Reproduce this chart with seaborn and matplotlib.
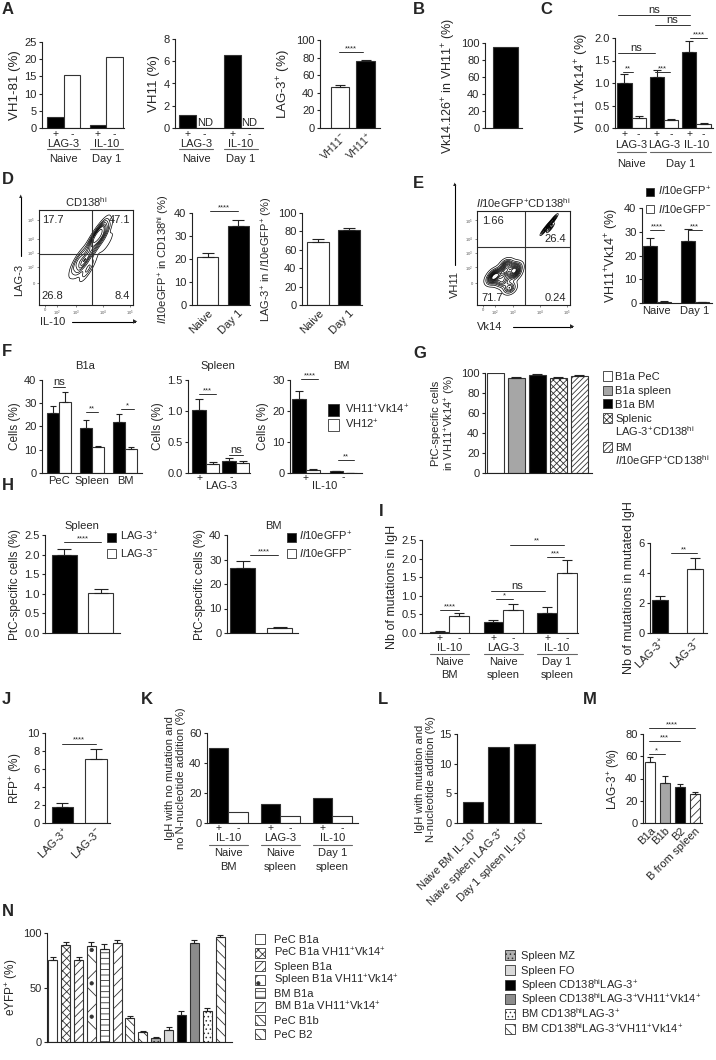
import numpy as np
import pandas as pd
import matplotlib.pyplot as plt
from matplotlib.patches import Rectangle
from matplotlib.ticker import FormatStrFormatter
import seaborn as sns

sns.set_style('ticks')
plt.rcParams['font.family'] = ['Liberation Sans', 'DejaVu Sans']
plt.rcParams.update({
    'mathtext.fontset': 'custom',
    'mathtext.rm': 'Liberation Sans',
    'mathtext.it': 'Liberation Sans:italic',
    'mathtext.bf': 'Liberation Sans:bold',
    'font.size': 8,
    'axes.linewidth': 0.8,
    'axes.edgecolor': '#222222',
    'axes.facecolor': 'none',
    'xtick.labelsize': 8,
    'ytick.labelsize': 8,
    'axes.labelsize': 8.5,
    'hatch.linewidth': 0.6,
})

# ---------------- data ----------------
pm_sign = ['+', '-', '+', '-']
a_genes = ['LAG-3', 'LAG-3', 'IL-10', 'IL-10']
a1_vals = [3.1, 15.3, 1.0, 20.6]
a2_vals = [1.15, 0, 6.6, 0]          # ND for the negative fractions
a3_cats = ['VH11$^{-}$', 'VH11$^{+}$']
a3_vals = [47, 76]
a3_err = [1.5, 1.5]
b_vals = [95]

c_groups = ['Naive LAG-3', 'Naive LAG-3', 'Day1 LAG-3', 'Day1 LAG-3', 'Day1 IL-10', 'Day1 IL-10']
c_sign = ['+', '-', '+', '-', '+', '-']
c_vals = [1.0, 0.22, 1.14, 0.17, 1.7, 0.09]
c_err = [0.2, 0.05, 0.15, 0.04, 0.24, 0.02]

d_cats = ['Naive', 'Day 1']
d2_vals = [21, 34.5]
d2_err = [1.5, 2.5]
d3_vals = [69, 82]
d3_err = [3, 2]
d_quads = ['17.7', '47.1', '26.8', '8.4']
d_pop_x = [0.62, 0.68, 0.58, 0.66, 0.47, 0.52, 0.42, 0.55, 0.60, 0.72, 0.40, 0.50]
d_pop_y = [0.72, 0.74, 0.70, 0.80, 0.44, 0.38, 0.48, 0.55, 0.60, 0.66, 0.40, 0.52]
d_pop_w = [4, 3, 2, 2, 3, 2, 2, 1, 1, 1, 1, 1]

e_quads = ['1.66', '26.4', '71.7', '0.24']
e_hi_x = [0.76, 0.80, 0.72, 0.79, 0.83]
e_hi_y = [0.84, 0.88, 0.79, 0.82, 0.92]
e_lo_x = [0.30, 0.20, 0.40, 0.27, 0.32, 0.42, 0.16, 0.35]
e_lo_y = [0.35, 0.33, 0.33, 0.25, 0.43, 0.40, 0.27, 0.18]
e_groups = ['Naive', 'Naive', 'Day 1', 'Day 1']
e_sub = ['pos', 'neg', 'pos', 'neg']
e_vals = [24, 0.5, 26.3, 0.4]
e_err = [3.5, 0.2, 5, 0.2]

f_groups = ['PeC', 'PeC', 'Spleen', 'Spleen', 'BM', 'BM']
f_sub = ['VH11', 'VH12'] * 3
f1_vals = [26, 30.5, 19.5, 11, 22, 10.5]
f1_err = [3, 4.5, 3.5, 0.6, 3.5, 0.8]
f2_vals = [1.02, 0.14, 0.2, 0.16]
f2_err = [0.17, 0.03, 0.04, 0.03]
f3_vals = [24, 1.0, 0.5, 0.1]
f3_err = [2.5, 0.2, 0.15, 0.05]

g_labels = ['B1a PeC', 'B1a spleen', 'B1a BM', 'Splenic\nLAG-3$^{+}$CD138$^{\\mathrm{hi}}$',
            'BM\n$\\it{Il10}$eGFP$^{+}$CD138$^{\\mathrm{hi}}$']
g_vals = [100, 95, 98.5, 95, 97.5]
g_err = [0, 1.2, 0.8, 0.6, 0.6]

h1_vals = [2.0, 1.03]
h1_err = [0.15, 0.1]
h2_vals = [26.5, 2.0]
h2_err = [2.7, 0.3]

i_groups = ['BM', 'BM', 'SpN', 'SpN', 'SpD', 'SpD']
i1_vals = [0.04, 0.45, 0.3, 0.62, 0.55, 1.62]
i1_err = [0.02, 0.1, 0.06, 0.17, 0.15, 0.33]
i2_cats = ['LAG-3$^{+}$', 'LAG-3$^{-}$']
i2_vals = [2.2, 4.25]
i2_err = [0.3, 0.75]

j_vals = [1.8, 7.1]
j_err = [0.4, 1.1]
k_vals = [50, 7.5, 12.5, 4.5, 16.5, 4.5]
l_cats = ['Naive BM IL-10$^{+}$', 'Naive spleen LAG-3$^{+}$', 'Day 1 spleen IL-10$^{+}$']
l_vals = [3.6, 12.8, 13.3]
m_cats = ['B1a', 'B1b', 'B2', 'B from spleen']
m_vals = [55, 36, 32, 26]
m_err = [4, 6, 3.5, 2]

n_labels_left = ['PeC B1a', 'PeC B1a VH11$^{+}$Vk14$^{+}$', 'Spleen B1a',
                 'Spleen B1a VH11$^{+}$Vk14$^{+}$', 'BM B1a', 'BM B1a VH11$^{+}$Vk14$^{+}$',
                 'PeC B1b', 'PeC B2']
n_labels_right = ['Spleen MZ', 'Spleen FO', 'Spleen CD138$^{\\mathrm{hi}}$LAG-3$^{+}$',
                  'Spleen CD138$^{\\mathrm{hi}}$LAG-3$^{+}$VH11$^{+}$Vk14$^{+}$',
                  'BM CD138$^{\\mathrm{hi}}$LAG-3$^{+}$',
                  'BM CD138$^{\\mathrm{hi}}$LAG-3$^{+}$VH11$^{+}$Vk14$^{+}$']
n_vals = [75, 89, 75, 88, 85, 91, 22, 9, 4, 11, 25, 91, 28, 96]
n_err = [3, 3, 3, 4, 5, 3, 2, 1, 1, 3, 3, 3, 3, 2]
n_fills = ['white'] * 8 + ['#b0b0b0', '#d9d9d9', 'black', '#8c8c8c', 'white', 'white']
n_hatch = [None, 'xxxx', '////', 'x.', '---', '///', '\\\\\\\\', '\\\\\\', '....', None, None, None,
           '....', '\\\\\\']

# ---------------- helpers ----------------
W, H = 716, 1060
fig = plt.figure(figsize=(W / 100, H / 100), dpi=100)


def axes_px(l, t, r, b):
    ax = fig.add_axes([l / W, 1 - b / H, (r - l) / W, (b - t) / H])
    ax.hpx = b - t
    ax.wpx = r - l
    return ax


def bars(ax, xlim, groups, subs, vals, fills, hatches=None, errs=None, width=0.8, gap=0.0):
    n = len(vals)
    hatches = hatches or [None] * n
    errs = errs or [0] * n
    df = pd.DataFrame({'grp': groups, 'sub': subs, 'val': vals})
    horder = list(dict.fromkeys(subs))
    sns.barplot(data=df, x='grp', y='val', hue='sub', order=list(dict.fromkeys(groups)),
                hue_order=horder, palette=['white'] * len(horder), width=width, gap=gap,
                errorbar=None, legend=False, ax=ax, linewidth=0.8, edgecolor='#333333')
    ax.set_xlim(*xlim)
    ppu = ax.wpx / (xlim[1] - xlim[0])
    ps = sorted(ax.patches, key=lambda p: p.get_x())
    cx = []
    for p, f, h, e in zip(ps, fills, hatches, errs):
        p.set_facecolor(f)
        if h:
            p.set_hatch(h)
        x = p.get_x() + p.get_width() / 2
        cx.append(x)
        if e:
            ax.errorbar(x, p.get_height(), yerr=[[0], [e]], fmt='none', ecolor='#222222',
                        elinewidth=0.8, capthick=0.8, capsize=p.get_width() * ppu * 0.28 * 0.72)
    ax.set_xlabel('')
    ax.set_ylabel('')
    return cx, ps


def style(ax, ylim, yticks, ylabel, fmt=None, pad=2, lfs=8.5):
    ax.set_ylim(*ylim)
    ax.set_yticks(yticks)
    if fmt:
        ax.yaxis.set_major_formatter(FormatStrFormatter(fmt))
    ax.set_ylabel(ylabel, labelpad=pad, fontsize=lfs)
    sns.despine(ax=ax)
    ax.tick_params(axis='x', length=0, pad=2)
    ax.tick_params(axis='y', length=2.5, width=0.8, pad=1.5)


def below(ax, x, dpx, s, fs=8, **kw):
    ax.text(x, -dpx / ax.hpx, s, transform=ax.get_xaxis_transform(), ha='center', va='center',
            fontsize=fs, **kw)


def bline(ax, x1, x2, dpx, c='#666666'):
    ax.plot([x1, x2], [-dpx / ax.hpx] * 2, transform=ax.get_xaxis_transform(), clip_on=False,
            color=c, lw=0.8)


def sig(ax, x1, x2, y, s, fs=5.5):
    ax.plot([x1, x2], [y, y], color='#333333', lw=0.7, clip_on=False)
    ax.text((x1 + x2) / 2, y, s, ha='center', va='bottom', fontsize=fs if s != 'ns' else 8,
            clip_on=False)


def mleg(labels, fills, hatches, xbox, rows, size=9, xtext=None, fs=8):
    # legend drawn row by row; multi-line labels continue on the next row without a box
    xtext = xtext or xbox + size + 4
    k = 0
    for lab, f, h in zip(labels, fills, hatches):
        for j, line in enumerate(lab.split('\n')):
            y = rows[k]
            k += 1
            if j == 0:
                fig.add_artist(Rectangle((xbox / W, 1 - (y + size / 2) / H), size / W, size / H,
                                         transform=fig.transFigure, facecolor=f,
                                         edgecolor='#333333', hatch=h, lw=0.6))
            fig.text(xtext / W, 1 - (y + 0.36 * fs * 1.39) / H, line, ha='left', va='baseline',
                     fontsize=fs)


def letter(x, y, s):
    fig.text(x / W, 1 - y / H, s, fontsize=12, fontweight='bold', ha='left', va='center')


def pm_labels(ax, cx, signs, dpx=6):
    ax.set_xticks([])
    for x, s in zip(cx, signs):
        below(ax, x, dpx, s, fs=7.5)


def flow(ax, title):
    ax.set_xlim(0, 1)
    ax.set_ylim(0, 1)
    for s in ax.spines.values():
        s.set_linewidth(0.8)
    ax.set_title(title, fontsize=8, pad=2)
    ax.set_xticks([0.065, 0.19, 0.39, 0.68, 0.97], ['0', '10$^2$', '10$^3$', '10$^4$', '10$^5$'])
    ax.set_yticks([0.23, 0.40, 0.55, 0.70, 0.90], ['0', '10$^2$', '10$^3$', '10$^4$', '10$^5$'])
    ax.tick_params(labelsize=3, length=1.5, width=0.5, pad=1, colors='#555555')


def arrows(tx, ty, text, x0, y0, x1, y1, rot=0):
    fig.text(tx / W, 1 - ty / H, text, rotation=rot, ha='center', va='center', fontsize=8)
    fig.add_artist(plt.Line2D([x0 / W, x1 / W], [1 - y0 / H, 1 - y1 / H], color='k', lw=0.8))
    fig.text(x1 / W, 1 - y1 / H, '\u25b2' if rot else '\u25b6', ha='center', va='center',
             fontsize=4)


# ---------------- A ----------------
letter(2, 10, 'A')
ax = axes_px(42, 42, 124, 128)
cx, ps = bars(ax, (-0.51, 1.42), a_genes, pm_sign, a1_vals, ['black', 'white'] * 2, width=0.78)
style(ax, (0, 25), range(0, 26, 5), 'VH1-81 (%)', lfs=9.5)
pm_labels(ax, cx, pm_sign)
for i, (gene, cond) in enumerate([('LAG-3', 'Naive'), ('IL-10', 'Day 1')]):
    below(ax, (cx[2 * i] + cx[2 * i + 1]) / 2, 16, gene)
    bline(ax, ps[2 * i].get_x(), ps[2 * i + 1].get_x() + ps[2 * i + 1].get_width(), 21)
    below(ax, (cx[2 * i] + cx[2 * i + 1]) / 2, 31, cond)

ax = axes_px(175, 39, 263, 128)
cx, ps = bars(ax, (-0.47, 1.49), a_genes, pm_sign, a2_vals, ['black', 'white'] * 2, width=0.76)
style(ax, (0, 8), range(0, 9, 2), 'VH11 (%)', lfs=9.5)
pm_labels(ax, cx, pm_sign)
for i in (1, 3):
    ax.text(cx[i], 0, 'ND', ha='center', va='bottom', fontsize=8)
for i, (gene, cond) in enumerate([('LAG-3', 'Naive'), ('IL-10', 'Day 1')]):
    below(ax, (cx[2 * i] + cx[2 * i + 1]) / 2, 16, gene)
    bline(ax, ps[2 * i].get_x(), ps[2 * i + 1].get_x() + ps[2 * i + 1].get_width(), 21)
    below(ax, (cx[2 * i] + cx[2 * i + 1]) / 2, 31, cond)

ax = axes_px(320, 40, 380, 128)
cx, ps = bars(ax, (-0.77, 1.54), a3_cats, a3_cats, a3_vals, ['white', 'black'], errs=a3_err,
              width=0.73)
style(ax, (0, 100), range(0, 101, 20), 'LAG-3$^{+}$ (%)', lfs=9.5)
ax.set_xticks(cx, a3_cats, rotation=45, ha='right', rotation_mode='anchor', fontsize=7.5)
sig(ax, cx[0] - 0.05, cx[1] - 0.1, 86, '****')

# ---------------- B ----------------
letter(413, 10, 'B')
ax = axes_px(485, 43, 522, 128)
cx, ps = bars(ax, (-0.66, 0.53), ['VH11'], ['VH11'], b_vals, ['black'])
style(ax, (0, 100), range(0, 101, 20), 'Vk14.126$^{+}$ in VH11$^{+}$ (%)', lfs=9)
ax.set_xticks([])

# ---------------- C ----------------
letter(540, 10, 'C')
ax = axes_px(615, 38, 713, 128)
cx, ps = bars(ax, (-0.51, 2.51), c_groups, c_sign, c_vals, ['black', 'white'] * 3, errs=c_err,
              width=0.88)
style(ax, (0, 2.0), [0, 0.5, 1.0, 1.5, 2.0], 'VH11$^{+}$Vk14$^{+}$ (%)', fmt='%.1f', lfs=9.5)
pm_labels(ax, cx, c_sign)
for i, gene in enumerate(['LAG-3', 'LAG-3', 'IL-10']):
    below(ax, (cx[2 * i] + cx[2 * i + 1]) / 2, 17, gene)
bline(ax, ps[0].get_x(), ps[1].get_x() + ps[1].get_width(), 24)
bline(ax, ps[2].get_x(), ps[5].get_x() + ps[5].get_width(), 24)
below(ax, (cx[0] + cx[1]) / 2, 36, 'Naive')
below(ax, (cx[2] + cx[5]) / 2, 36, 'Day 1')
sig(ax, -0.42, 1.8, 2.51, 'ns')
sig(ax, 0.72, 1.8, 2.29, 'ns')
sig(ax, 1.8, 2.32, 2.0, '****')
sig(ax, -0.42, 0.72, 1.67, 'ns')
sig(ax, -0.26, 0.05, 1.24, '**')
sig(ax, 0.72, 1.18, 1.24, '***')

# ---------------- D ----------------
letter(2, 180, 'D')
ax = axes_px(39, 210, 133, 305)
flow(ax, 'CD138$^{\\mathrm{hi}}$')
sns.kdeplot(x=d_pop_x, y=d_pop_y, weights=d_pop_w, levels=9, thresh=0.06, bw_adjust=0.8,
            color='black', linewidths=0.5, ax=ax)
ax.set_xlim(0, 1)
ax.set_ylim(0, 1)
ax.set_xlabel('')
ax.set_ylabel('')
ax.axvline(0.56, color='#333333', lw=0.8)
ax.axhline(0.54, color='#333333', lw=0.8)
for (x, y, ha, va), s in zip([(0.03, 0.95, 'left', 'top'), (0.97, 0.95, 'right', 'top'),
                              (0.03, 0.04, 'left', 'bottom'), (0.97, 0.04, 'right', 'bottom')],
                             d_quads):
    ax.text(x, y, s, ha=ha, va=va, fontsize=8, transform=ax.transAxes)
arrows(19, 280, 'LAG-3', 21, 256, 21, 197, rot=90)
arrows(53, 322, 'IL-10', 72, 322, 135, 322)

ax = axes_px(192, 213, 250, 305)
cx, ps = bars(ax, (-0.51, 1.39), d_cats, d_cats, d2_vals, ['white', 'black'], errs=d2_err,
              width=0.69)
style(ax, (0, 40), range(0, 41, 10), '$\\it{Il10}$eGFP$^{+}$ in CD138$^{\\mathrm{hi}}$ (%)',
      lfs=8)
ax.set_xticks(cx, d_cats, rotation=45, ha='right', rotation_mode='anchor', fontsize=8)
sig(ax, cx[0] + 0.08, cx[1], 40.9, '****')

ax = axes_px(302, 213, 362, 305)
cx, ps = bars(ax, (-0.54, 1.43), d_cats, d_cats, d3_vals, ['white', 'black'], errs=d3_err,
              width=0.72)
style(ax, (0, 100), range(0, 101, 20), 'LAG-3$^{+}$ in $\\it{Il10}$eGFP$^{+}$ (%)', lfs=8)
ax.set_xticks(cx, d_cats, rotation=45, ha='right', rotation_mode='anchor', fontsize=8)

# ---------------- E ----------------
letter(413, 183, 'E')
ax = axes_px(477, 211, 570, 305)
flow(ax, '$\\it{Il10}$eGFP$^{+}$CD138$^{\\mathrm{hi}}$')
sns.kdeplot(x=e_hi_x, y=e_hi_y, levels=7, thresh=0.1, bw_adjust=0.8, color='black',
            linewidths=0.5, ax=ax)
sns.kdeplot(x=e_lo_x, y=e_lo_y, levels=12, thresh=0.06, bw_adjust=0.75, color='black',
            linewidths=0.5, ax=ax)
ax.set_xlim(0, 1)
ax.set_ylim(0, 1)
ax.set_xlabel('')
ax.set_ylabel('')
ax.axvline(0.52, color='#333333', lw=0.8)
ax.axhline(0.62, color='#333333', lw=0.8)
for (x, y, ha, va), s in zip([(0.05, 0.95, 'left', 'top'), (0.96, 0.65, 'right', 'bottom'),
                              (0.05, 0.02, 'left', 'bottom'), (0.96, 0.02, 'right', 'bottom')],
                             e_quads):
    ax.text(x, y, s, ha=ha, va=va, fontsize=8, transform=ax.transAxes)
arrows(455, 285, 'VH11', 455, 265, 455, 184, rot=90)
arrows(490, 327, 'Vk14', 513, 327, 572, 327)

ax = axes_px(642, 208, 712, 303)
cx, ps = bars(ax, (-0.39, 1.45), e_groups, e_sub, e_vals, ['black', 'white'] * 2, errs=e_err,
              width=0.74)
style(ax, (0, 40), range(0, 41, 10), 'VH11$^{+}$Vk14$^{+}$ (%)', lfs=9)
ax.set_xticks([(cx[0] + cx[1]) / 2, (cx[2] + cx[3]) / 2], ['Naive', 'Day 1'], fontsize=8)
sig(ax, cx[0], cx[1], 30.7, '****')
sig(ax, cx[2], cx[3], 30.7, '***')
mleg(['$\\it{Il10}$eGFP$^{+}$', '$\\it{Il10}$eGFP$^{-}$'], ['black', 'white'], [None, None],
     646, [192, 209], size=8)

# ---------------- F ----------------
letter(2, 352, 'F')
ax = axes_px(42, 380, 142, 473)
cx, ps = bars(ax, (-0.51, 2.5), f_groups, f_sub, f1_vals, ['black', 'white'] * 3, errs=f1_err,
              width=0.72)
style(ax, (0, 40), range(0, 41, 10), 'Cells (%)')
ax.set_xticks([(cx[0] + cx[1]) / 2, (cx[2] + cx[3]) / 2, (cx[4] + cx[5]) / 2],
              ['PeC', 'Spleen', 'BM'], fontsize=8)
ax.set_title('B1a', fontsize=8, x=0.43, pad=8)
sig(ax, cx[0], cx[1], 37, 'ns')
sig(ax, cx[2], cx[3], 26.2, '**')
sig(ax, cx[4] + 0.05, cx[5] + 0.08, 27.5, '*')

ax = axes_px(188, 380, 250, 473)
cx, ps = bars(ax, (-0.6, 1.47), ['+', '+', '-', '-'], ['VH11', 'VH12'] * 2, f2_vals,
              ['black', 'white'] * 2, errs=f2_err, width=0.9)
style(ax, (0, 1.5), [0, 0.5, 1.0, 1.5], 'Cells (%)', fmt='%.1f')
ax.set_xticks([])
below(ax, (cx[0] + cx[1]) / 2 - 0.2, 5, '+', fs=7.5)
below(ax, (cx[2] + cx[3]) / 2 - 0.15, 4, '-', fs=7.5)
below(ax, 0.5, 13, 'LAG-3')
ax.set_title('Spleen', fontsize=8, x=0.48, pad=8)
sig(ax, cx[0], cx[1] + 0.1, 1.27, '***')
sig(ax, cx[2], cx[3], 0.29, 'ns')

ax = axes_px(290, 380, 362, 473)
cx, ps = bars(ax, (-0.43, 1.51), ['+', '+', '-', '-'], ['VH11', 'VH12'] * 2, f3_vals,
              ['black', 'white'] * 2, errs=f3_err, width=0.73)
style(ax, (0, 30), range(0, 31, 10), 'Cells (%)')
ax.set_xticks([])
below(ax, (cx[0] + cx[1]) / 2, 5, '+', fs=7.5)
below(ax, (cx[2] + cx[3]) / 2, 4, '-', fs=7.5)
below(ax, 0.5, 13, 'IL-10')
ax.set_title('BM', fontsize=8, x=0.72, pad=8)
sig(ax, cx[0] + 0.05, cx[1] + 0.15, 30.3, '****')
sig(ax, cx[2] + 0.05, cx[3] + 0.1, 4.2, '**')
mleg(['VH11$^{+}$Vk14$^{+}$', 'VH12$^{+}$'], ['black', 'white'], [None, None], 328, [410, 425],
     size=11, xtext=345)

# ---------------- G ----------------
letter(413, 353, 'G')
ax = axes_px(485, 373, 592, 473)
g_fills = ['white', '#a6a6a6', 'black', 'white', 'white']
g_hatch = [None, None, None, 'xxxxx', '//////']
cx, ps = bars(ax, (-0.5, 4.6), g_labels, g_labels, g_vals, g_fills, hatches=g_hatch, errs=g_err,
              width=0.8)
style(ax, (0, 100), range(0, 101, 20), 'PtC-specific cells\nin VH11$^{+}$Vk14$^{+}$ (%)', lfs=8)
ax.set_xticks([])
mleg(g_labels, g_fills, g_hatch, 603, [376, 390, 404, 418, 432, 447, 461], size=9, xtext=615)

# ---------------- H ----------------
letter(2, 485, 'H')
ax = axes_px(45, 535, 120, 633)
cx, ps = bars(ax, (-0.54, 1.54), ['p', 'n'], ['p', 'n'], h1_vals, ['black', 'white'], errs=h1_err,
              width=0.7)
style(ax, (0, 2.5), [0, 0.5, 1.0, 1.5, 2.0, 2.5], 'PtC-specific cells (%)', fmt='%.1f')
ax.set_xticks([])
ax.set_title('Spleen', fontsize=8, x=0.49, pad=4)
sig(ax, cx[0], cx[1], 2.32, '****')
mleg(['LAG-3$^{+}$', 'LAG-3$^{-}$'], ['black', 'white'], [None, None], 107, [537, 553], size=9,
     xtext=120)

ax = axes_px(227, 535, 298, 633)
cx, ps = bars(ax, (-0.42, 1.5), ['p', 'n'], ['p', 'n'], h2_vals, ['black', 'white'], errs=h2_err,
              width=0.68)
style(ax, (0, 40), range(0, 41, 10), 'PtC-specific cells (%)')
ax.set_xticks([])
ax.set_title('BM', fontsize=8, x=0.65, pad=4)
sig(ax, cx[0] + 0.2, cx[1] - 0.05, 31.8, '****')
mleg(['$\\it{Il10}$eGFP$^{+}$', '$\\it{Il10}$eGFP$^{-}$'], ['black', 'white'], [None, None],
     287, [537, 553], size=9, xtext=299)

# ---------------- I ----------------
letter(379, 512, 'I')
ax = axes_px(422, 540, 578, 633)
cx, ps = bars(ax, (-0.51, 2.39), i_groups, pm_sign + pm_sign[:2], i1_vals,
              ['black', 'white'] * 3, errs=i1_err, width=0.73)
style(ax, (0, 2.5), [0, 0.5, 1.0, 1.5, 2.0, 2.5], 'Nb of mutations in IgH', fmt='%.1f', lfs=9)
pm_labels(ax, cx, pm_sign + pm_sign[:2], dpx=5)
for i, (gene, c1, c2) in enumerate([('IL-10', 'Naive', 'BM'), ('LAG-3', 'Naive', 'spleen'),
                                     ('IL-10', 'Day 1', 'spleen')]):
    mid = (cx[2 * i] + cx[2 * i + 1]) / 2
    below(ax, mid, 15, gene)
    bline(ax, ps[2 * i].get_x(), ps[2 * i + 1].get_x() + ps[2 * i + 1].get_width(), 21)
    below(ax, mid, 29, c1)
    below(ax, mid, 42, c2)
sig(ax, cx[0], cx[1], 0.62, '****')
sig(ax, cx[2] + 0.05, cx[3], 0.91, '*')
sig(ax, cx[2] - 0.05, cx[4] - 0.05, 1.13, 'ns')
sig(ax, cx[3] - 0.05, cx[5] - 0.05, 2.37, '**')
sig(ax, cx[4], cx[5] - 0.05, 2.04, '***')

ax = axes_px(650, 543, 707, 633)
cx, ps = bars(ax, (-0.29, 1.34), i2_cats, i2_cats, i2_vals, ['black', 'white'], errs=i2_err,
              width=0.46)
style(ax, (0, 6), [0, 2, 4, 6], 'Nb of mutations in mutated IgH', lfs=9)
ax.set_xticks(cx, i2_cats, rotation=45, ha='right', rotation_mode='anchor', fontsize=8)
sig(ax, cx[0] + 0.3, cx[1] + 0.05, 5.33, '**')

# ---------------- J ----------------
letter(2, 700, 'J')
ax = axes_px(45, 733, 110, 823)
cx, ps = bars(ax, (-0.52, 1.42), i2_cats, i2_cats, j_vals, ['black', 'white'], errs=j_err,
              width=0.64)
style(ax, (0, 10), range(0, 11, 2), 'RFP$^{+}$ (%)')
ax.set_xticks(cx, i2_cats, rotation=45, ha='right', rotation_mode='anchor', fontsize=8)
sig(ax, cx[0], cx[1], 8.8, '****')

# ---------------- K ----------------
letter(141, 700, 'K')
ax = axes_px(207, 733, 358, 823)
cx, ps = bars(ax, (-0.41, 2.49), i_groups, pm_sign + pm_sign[:2], k_vals,
              ['black', 'white'] * 3, width=0.75)
style(ax, (0, 60), range(0, 61, 20), 'IgH with no mutation and\nno N-nucleotide addition (%)',
      lfs=8)
pm_labels(ax, cx, pm_sign + pm_sign[:2], dpx=5)
for i, (gene, c1, c2) in enumerate([('IL-10', 'Naive', 'BM'), ('LAG-3', 'Naive', 'spleen'),
                                     ('IL-10', 'Day 1', 'spleen')]):
    mid = (cx[2 * i] + cx[2 * i + 1]) / 2
    below(ax, mid, 15, gene)
    bline(ax, ps[2 * i].get_x(), ps[2 * i + 1].get_x() + ps[2 * i + 1].get_width(), 22)
    below(ax, mid, 30, c1)
    below(ax, mid, 44, c2)

# ---------------- L ----------------
letter(378, 700, 'L')
ax = axes_px(457, 734, 541, 823)
cx, ps = bars(ax, (-0.62, 2.64), l_cats, l_cats, l_vals, ['black'] * 3, width=0.8)
style(ax, (0, 15), [0, 5, 10, 15], 'IgH with mutation and\nN-nucleotide addition (%)', lfs=8)
ax.set_xticks(cx, l_cats, rotation=45, ha='right', rotation_mode='anchor', fontsize=8)

# ---------------- M ----------------
letter(583, 700, 'M')
ax = axes_px(643, 734, 702, 823)
cx, ps = bars(ax, (-0.47, 3.47), m_cats, m_cats, m_vals, ['white', '#a6a6a6', 'black', 'white'],
              hatches=[None, None, None, '////'], errs=m_err, width=0.67)
style(ax, (0, 80), range(0, 81, 20), 'LAG-3$^{+}$ (%)')
ax.set_xticks(cx, m_cats, rotation=45, ha='right', rotation_mode='anchor', fontsize=8)
sig(ax, cx[0] - 0.1, cx[3], 85.4, '****')
sig(ax, cx[0] - 0.1, cx[2], 73.7, '***')
sig(ax, cx[0] - 0.1, cx[1], 62, '*')

# ---------------- N ----------------
letter(2, 912, 'N')
ax = axes_px(47, 933, 232, 1042)
n_cats = n_labels_left + n_labels_right
cx, ps = bars(ax, (-0.45, 13.93), n_cats, n_cats, n_vals, n_fills, hatches=n_hatch, errs=n_err,
              width=0.7)
style(ax, (0, 100), [0, 50, 100], 'eYFP$^{+}$ (%)')
ax.set_xticks([])
mleg(n_labels_left, n_fills[:8], n_hatch[:8], 255, [939 + 13.5 * i for i in range(8)], size=10,
     xtext=274)
mleg(n_labels_right, n_fills[8:], n_hatch[8:], 505, [955 + 14.8 * i for i in range(6)], size=10,
     xtext=521)

fig.savefig('out.png', dpi=100)
